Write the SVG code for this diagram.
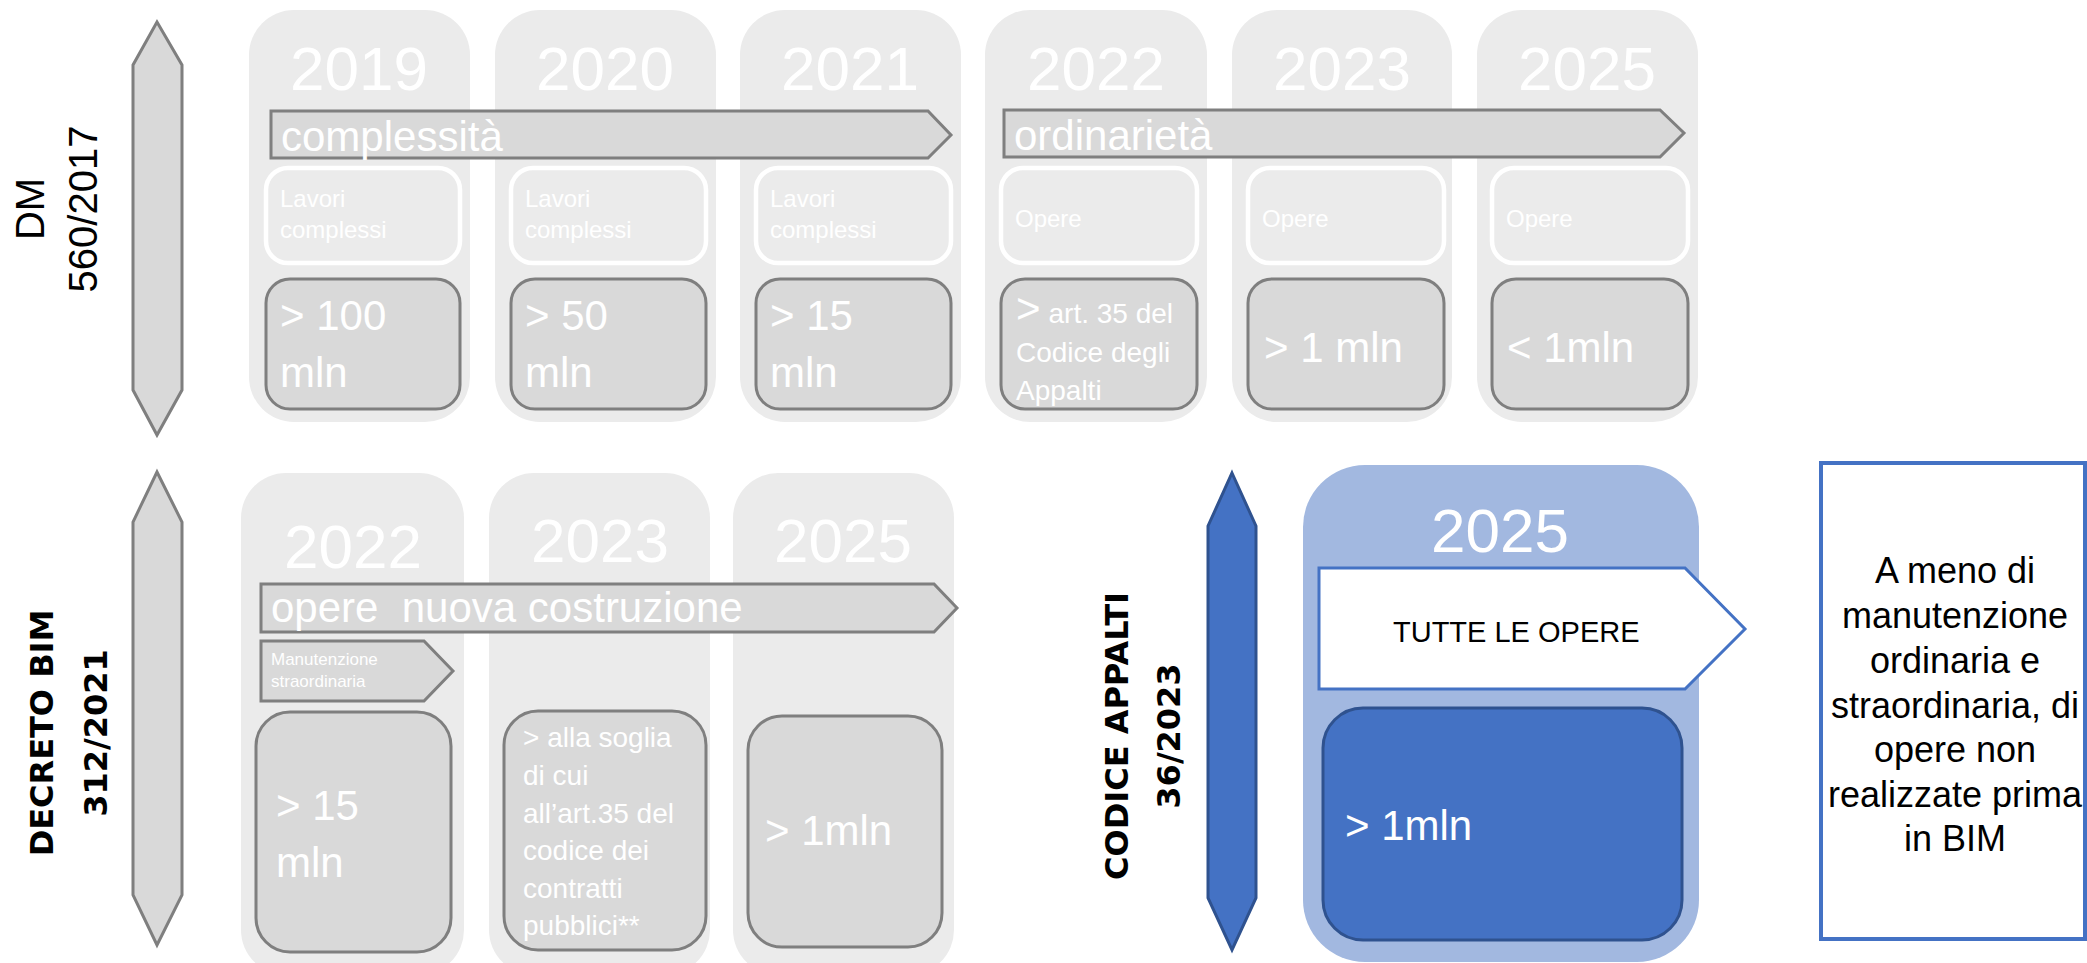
<svg xmlns="http://www.w3.org/2000/svg" width="2087" height="963" viewBox="0 0 2087 963">
  <style>
    text { font-family: "Liberation Sans", Arial, sans-serif; }
    .col { fill: #ebebeb; }
    .box { fill: #d9d9d9; stroke: #7f7f7f; stroke-width: 3; }
    .wbox { fill: none; stroke: #ffffff; stroke-width: 4.5; }
    .garrow { fill: #d9d9d9; stroke: #7f7f7f; stroke-width: 3; }
    .year { fill: #ffffff; font-size: 62px; text-anchor: middle; }
    .band { fill: #ffffff; font-size: 42px; }
    .small { fill: #ffffff; font-size: 24px; }
    .big { fill: #ffffff; font-size: 42px; }
    .mid { fill: #ffffff; font-size: 28px; }
    .tiny { fill: #ffffff; font-size: 17px; }
    .lbl { fill: #000000; font-size: 40px; text-anchor: middle; }
    .lblb { fill: #000000; font-family: "DejaVu Sans", Verdana, sans-serif; font-weight: bold; font-size: 32px; text-anchor: middle; }
    .note { fill: #000000; font-size: 36px; text-anchor: middle; }
  </style>

  <!-- Row 1: DM 560/2017 -->
  <g id="dm-label">
    <polygon class="garrow" points="157,22 182,65 182,390 157,435 133,390 133,65"/>
    <g transform="translate(0,209) rotate(-90)">
      <text class="lbl" x="0" y="44">DM</text>
      <text class="lbl" x="0" y="97">560/2017</text>
    </g>
  </g>

  <g id="dm-2019">
    <rect class="col" x="249" y="10" width="221" height="412" rx="45"/>
    <text class="year" x="359" y="90">2019</text>
    <rect class="wbox" x="266" y="168" width="194" height="95" rx="22"/>
    <text class="small" x="280" y="207">Lavori</text>
    <text class="small" x="280" y="238">complessi</text>
    <rect class="box" x="266" y="279" width="194" height="130" rx="24"/>
    <text class="big" x="280" y="330">&gt; 100</text>
    <text class="big" x="280" y="387">mln</text>
  </g>

  <g id="dm-2020">
    <rect class="col" x="495" y="10" width="221" height="412" rx="45"/>
    <text class="year" x="605" y="90">2020</text>
    <rect class="wbox" x="511" y="168" width="195" height="95" rx="22"/>
    <text class="small" x="525" y="207">Lavori</text>
    <text class="small" x="525" y="238">complessi</text>
    <rect class="box" x="511" y="279" width="195" height="130" rx="24"/>
    <text class="big" x="525" y="330">&gt; 50</text>
    <text class="big" x="525" y="387">mln</text>
  </g>

  <g id="dm-2021">
    <rect class="col" x="740" y="10" width="221" height="412" rx="45"/>
    <text class="year" x="850" y="90">2021</text>
    <rect class="wbox" x="756" y="168" width="195" height="95" rx="22"/>
    <text class="small" x="770" y="207">Lavori</text>
    <text class="small" x="770" y="238">complessi</text>
    <rect class="box" x="756" y="279" width="195" height="130" rx="24"/>
    <text class="big" x="770" y="330">&gt; 15</text>
    <text class="big" x="770" y="387">mln</text>
  </g>

  <g id="dm-2022">
    <rect class="col" x="985" y="10" width="222" height="412" rx="45"/>
    <text class="year" x="1096" y="90">2022</text>
    <rect class="wbox" x="1001" y="168" width="196" height="95" rx="22"/>
    <text class="small" x="1015" y="227">Opere</text>
    <rect class="box" x="1001" y="279" width="196" height="130" rx="24"/>
    <text x="1016" y="323"><tspan class="big">&gt;</tspan><tspan class="mid" dx="8">art. 35 del</tspan></text>
    <text class="mid" x="1016" y="362">Codice degli</text>
    <text class="mid" x="1016" y="400">Appalti</text>
  </g>

  <g id="dm-2023">
    <rect class="col" x="1232" y="10" width="220" height="412" rx="45"/>
    <text class="year" x="1342" y="90">2023</text>
    <rect class="wbox" x="1248" y="168" width="196" height="95" rx="22"/>
    <text class="small" x="1262" y="227">Opere</text>
    <rect class="box" x="1248" y="279" width="196" height="130" rx="24"/>
    <text class="big" x="1264" y="362">&gt; 1 mln</text>
  </g>

  <g id="dm-2025">
    <rect class="col" x="1477" y="10" width="221" height="412" rx="45"/>
    <text class="year" x="1587" y="90">2025</text>
    <rect class="wbox" x="1492" y="168" width="196" height="95" rx="22"/>
    <text class="small" x="1506" y="227">Opere</text>
    <rect class="box" x="1492" y="279" width="196" height="130" rx="24"/>
    <text class="big" x="1507" y="362">&lt; 1mln</text>
  </g>

  <g id="dm-complessita">
    <polygon class="garrow" points="271,111 928,111 951,135 928,158 271,158"/>
    <text class="band" x="281" y="151">complessità</text>
  </g>

  <g id="dm-ordinarieta">
    <polygon class="garrow" points="1004,110 1660,110 1684,133 1660,157 1004,157"/>
    <text class="band" x="1014" y="150">ordinarietà</text>
  </g>

  <!-- Row 2: Decreto BIM 312/2021 -->
  <g id="bim-label">
    <polygon class="garrow" points="157,472 182,522 182,895 157,945 133,895 133,522"/>
    <g transform="translate(0,733) rotate(-90)">
      <text class="lblb" x="0" y="53">DECRETO BIM</text>
      <text class="lblb" x="0" y="107">312/2021</text>
    </g>
  </g>

  <g id="bim-2022">
    <rect class="col" x="241" y="473" width="223" height="502" rx="45"/>
    <text class="year" x="353" y="568">2022</text>
    <rect class="box" x="256" y="712" width="195" height="240" rx="34"/>
    <text class="big" x="276" y="820">&gt; 15</text>
    <text class="big" x="276" y="877">mln</text>
  </g>

  <g id="bim-2023">
    <rect class="col" x="489" y="473" width="221" height="502" rx="45"/>
    <text class="year" x="600" y="562">2023</text>
    <rect class="box" x="504" y="711" width="202" height="239" rx="34"/>
    <text class="mid" x="523" y="747">&gt; alla soglia</text>
    <text class="mid" x="523" y="785">di cui</text>
    <text class="mid" x="523" y="823">all’art.35 del</text>
    <text class="mid" x="523" y="860">codice dei</text>
    <text class="mid" x="523" y="898">contratti</text>
    <text class="mid" x="523" y="935">pubblici**</text>
  </g>

  <g id="bim-2025">
    <rect class="col" x="733" y="473" width="221" height="502" rx="45"/>
    <text class="year" x="843" y="562">2025</text>
    <rect class="box" x="748" y="716" width="194" height="231" rx="34"/>
    <text class="big" x="765" y="845">&gt; 1mln</text>
  </g>

  <g id="bim-nuova-costruzione">
    <polygon class="garrow" points="261,584 934,584 957,608 934,632 261,632"/>
    <text class="band" x="271" y="622" xml:space="preserve">opere  nuova costruzione</text>
  </g>

  <g id="bim-manutenzione">
    <polygon class="garrow" points="261,641 424,641 453,671 424,701 261,701"/>
    <text class="tiny" x="271" y="665">Manutenzione</text>
    <text class="tiny" x="271" y="687">straordinaria</text>
  </g>

  <!-- Row 2, right: Codice Appalti 36/2023 -->
  <g id="codice-label">
    <polygon points="1232,473 1256,526 1256,898 1232,950 1208,898 1208,526" fill="#4472c4" stroke="#2f528f" stroke-width="3"/>
    <g transform="translate(0,736) rotate(-90)">
      <text class="lblb" x="0" y="1128">CODICE APPALTI</text>
      <text class="lblb" x="0" y="1180">36/2023</text>
    </g>
  </g>

  <g id="codice-2025">
    <rect x="1303" y="465" width="396" height="497" rx="62" fill="#a2b8e0"/>
    <text class="year" x="1500" y="552">2025</text>
    <polygon points="1319,568 1685,568 1745,629 1685,689 1319,689" fill="#ffffff" stroke="#4472c4" stroke-width="3"/>
    <text x="1393" y="642" font-size="29" fill="#000000">TUTTE LE OPERE</text>
    <rect x="1323" y="708" width="359" height="232" rx="40" fill="#4472c4" stroke="#2f528f" stroke-width="3"/>
    <text class="big" x="1345" y="840">&gt; 1mln</text>
  </g>

  <g id="codice-eccezioni">
    <rect x="1821" y="463" width="264" height="476" fill="#ffffff" stroke="#4472c4" stroke-width="4"/>
    <text class="note" x="1955" y="583">A meno di</text>
    <text class="note" x="1955" y="628">manutenzione</text>
    <text class="note" x="1955" y="673">ordinaria e</text>
    <text class="note" x="1955" y="718">straordinaria, di</text>
    <text class="note" x="1955" y="762">opere non</text>
    <text class="note" x="1955" y="807">realizzate prima</text>
    <text class="note" x="1955" y="851">in BIM</text>
  </g>

  <g id="connectors"/>
</svg>
